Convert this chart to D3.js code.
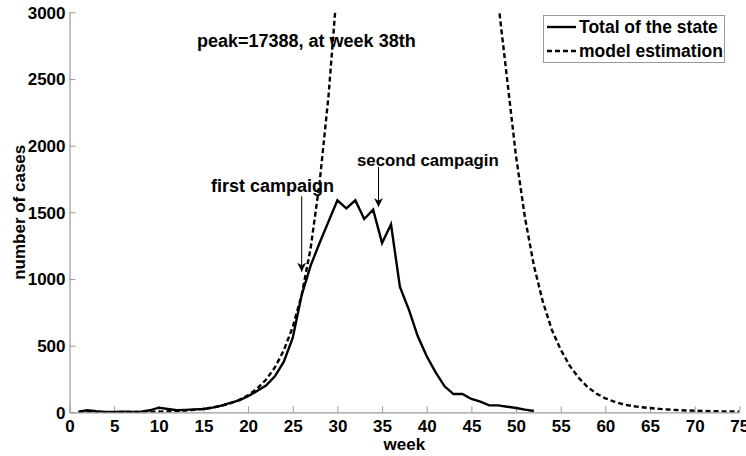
<!DOCTYPE html>
<html><head><meta charset="utf-8">
<script src="https://cdn.jsdelivr.net/npm/d3@7"></script>
<style>
html,body{margin:0;padding:0;background:#fff;}
text{font-family:"Liberation Sans",Arial,sans-serif;font-weight:bold;fill:#000;}
</style></head>
<body>
<svg id="chart" width="746" height="456"></svg>
<script>
// ---- data ----
const weeksObserved = d3.range(1, 53);
const totalState = [5,15,8,3,2,5,3,5,15,35,25,15,18,22,25,35,50,70,90,120,
  160,200,270,380,560,880,1100,1270,1430,1590,1530,1590,1450,1520,1270,1410,940,770,570,420,
  300,195,137,137,100,80,52,52,42,32,20,10];
const weeksModel = d3.range(1, 76);
const modelEstimation = [1,1,1,1,1,2,2,3,4,5,7,10,14,19,26,35,49,67,93,128,
  177,244,337,465,640,880,1230,1720,2370,3220,4300,5700,7400,9400,11600,13900,16000,17388,17100,16000,
  14200,12000,9800,7800,6100,4900,3900,3080,2500,1920,1460,1100,830,620,470,350,260,190,140,105,
  80,60,47,38,32,26,21,17,14,12,10,8,7,6,5];
const xTicks = d3.range(0, 80, 5);
const yTicks = [0,500,1000,1500,2000,2500,3000];
const legendLabels = ["Total of the state", "model estimation"];
const annotations = [
  {text:"peak=17388, at week 38th"},
  {text:"first campaign", week:26, from:1620, to:1055},
  {text:"second campagin", week:34.6, from:1840, to:1540}
];

// ---- layout ----
const svg = d3.select("#chart");
const L = 69.5, R = 739.3, T = 12.3, B = 412.3;
const x = d3.scaleLinear().domain([0,75]).range([L,R]);
const y = d3.scaleLinear().domain([0,3000]).range([B,T]);
const axisColor = "#999";
const FS = "17px";

svg.append("rect").attr("width",746).attr("height",456).attr("fill","#fff");

const defs = svg.append("defs");
defs.append("clipPath").attr("id","clip")
  .append("rect").attr("x",L).attr("y",T).attr("width",R-L).attr("height",B-T);
defs.append("marker").attr("id","arr").attr("viewBox","0 0 10 10")
  .attr("refX",10).attr("refY",5).attr("markerWidth",10).attr("markerHeight",9)
  .attr("markerUnits","userSpaceOnUse").attr("orient","auto")
  .append("path").attr("d","M0,0 L10,5 L0,10 L3,5 Z").attr("fill","#000");

// axes
const xAxis = d3.axisBottom(x).tickValues(xTicks).tickSizeInner(-6).tickSizeOuter(0).tickPadding(8);
const gx = svg.append("g").attr("transform",`translate(0,${B})`).call(xAxis);
const yAxis = d3.axisLeft(y).tickValues(yTicks).tickFormat(d3.format("d"))
  .tickSizeInner(-6).tickSizeOuter(0).tickPadding(4);
const gy = svg.append("g").attr("transform",`translate(${L},0)`).call(yAxis);
[gx,gy].forEach(g=>{
  g.select(".domain").attr("stroke",axisColor).attr("stroke-width",1.2);
  g.selectAll(".tick line").attr("stroke",axisColor).attr("stroke-width",1);
  g.selectAll(".tick text").attr("fill","#000").style("font-size",FS)
    .style("font-family",'"Liberation Sans",Arial,sans-serif').style("font-weight","bold");
});
gy.selectAll(".tick text").attr("dy","0.35em");

// axis titles
svg.append("text").attr("x",(L+R)/2).attr("y",450).attr("text-anchor","middle")
  .style("font-size",FS).text("week");
svg.append("text").attr("transform",`translate(25,${(T+B)/2}) rotate(-90)`)
  .attr("text-anchor","middle").style("font-size",FS).text("number of cases");

// lines
const plot = svg.append("g").attr("clip-path","url(#clip)");
const line = d3.line().x(d=>x(d[0])).y(d=>y(d[1]));
plot.append("path").datum(weeksModel.map((w,i)=>[w,modelEstimation[i]]))
  .attr("d",line).attr("fill","none").attr("stroke","#000").attr("stroke-width",2.4)
  .attr("stroke-dasharray","5,3");
plot.append("path").datum(weeksObserved.map((w,i)=>[w,totalState[i]]))
  .attr("d",line).attr("fill","none").attr("stroke","#000").attr("stroke-width",2.4)
  .attr("stroke-linejoin","miter");

// annotations
svg.append("text").attr("x",197).attr("y",47).style("font-size","18px").text(annotations[0].text);
svg.append("text").attr("x",211).attr("y",192).style("font-size","18px").text(annotations[1].text);
svg.append("text").attr("x",357).attr("y",166).style("font-size","16.8px").text(annotations[2].text);
[annotations[1],annotations[2]].forEach(a=>{
  svg.append("line").attr("x1",x(a.week)).attr("x2",x(a.week))
    .attr("y1",y(a.from)).attr("y2",y(a.to)).attr("stroke","#000").attr("stroke-width",1)
    .attr("marker-end","url(#arr)");
});

// legend
const lg = svg.append("g");
lg.append("rect").attr("x",543.5).attr("y",15.5).attr("width",181).attr("height",47)
  .attr("fill","#fff").attr("stroke",axisColor).attr("stroke-width",1);
legendLabels.forEach((lab,i)=>{
  const yy = 27 + i*24;
  lg.append("line").attr("x1",547).attr("x2",576).attr("y1",yy).attr("y2",yy)
    .attr("stroke","#000").attr("stroke-width",2.4).attr("stroke-dasharray", i? "5,3":null);
  lg.append("text").attr("x",579).attr("y",yy+6).style("font-size","17.5px").text(lab);
});
</script>
</body></html>
